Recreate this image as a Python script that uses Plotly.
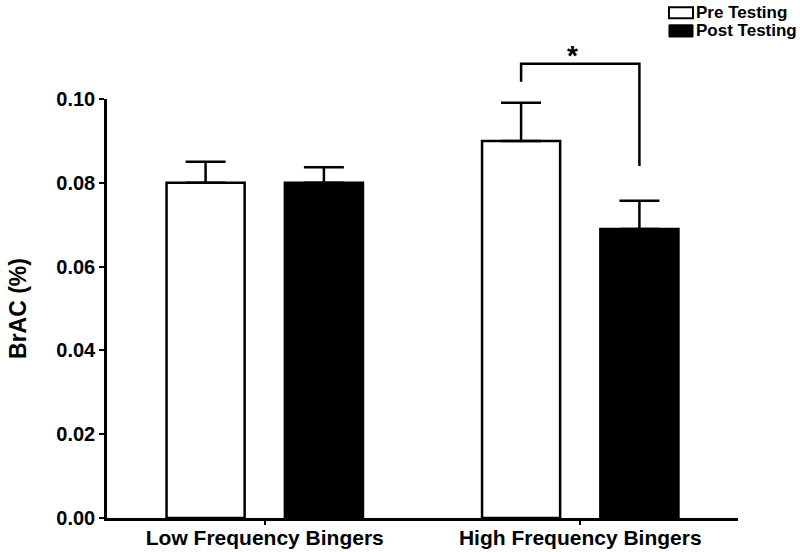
import plotly.graph_objects as go

categories = ["Low Frequency Bingers", "High Frequency Bingers"]
pre_mean = [0.080, 0.090]
pre_err = [0.0050, 0.0091]
post_mean = [0.080, 0.069]
post_err = [0.0037, 0.0067]
series_names = ["Pre Testing", "Post Testing"]
y_ticks = [0.00, 0.02, 0.04, 0.06, 0.08, 0.10]
y_tick_labels = ["0.00", "0.02", "0.04", "0.06", "0.08", "0.10"]

FONT = "Liberation Sans, Arial, sans-serif"
BARGAP = 0.25
BARGROUPGAP = 0.34

fig = go.Figure()
fig.add_trace(go.Bar(
    name=series_names[0], x=categories, y=pre_mean,
    marker=dict(color="white", line=dict(color="black", width=2.5)),
    error_y=dict(type="data", array=pre_err, symmetric=False, arrayminus=[0, 0],
                 color="black", thickness=2.5, width=20),
    showlegend=False,
))
fig.add_trace(go.Bar(
    name=series_names[1], x=categories, y=post_mean,
    marker=dict(color="black", line=dict(color="black", width=2.5)),
    error_y=dict(type="data", array=post_err, symmetric=False, arrayminus=[0, 0],
                 color="black", thickness=2.5, width=20),
    showlegend=False,
))

# significance bracket between High pre and High post (paper coords, y = value*10)
slot = (1 - BARGAP) / 2
hi_idx = 1
x_pre = hi_idx - slot / 2
x_post = hi_idx + slot / 2
def px(xd):
    return (xd + 0.5) / 2.0
line_style = dict(color="black", width=2.5)
y_top = 1.084
fig.add_shape(type="path", xref="paper", yref="paper",
              path=f"M {px(x_pre)},{1.041} L {px(x_pre)},{y_top} L {px(x_post)},{y_top} L {px(x_post)},{0.84}",
              line=line_style)
fig.add_annotation(x=px(hi_idx), y=1.103, xref="paper", yref="paper",
                   text="<b>*</b>", showarrow=False, yanchor="middle",
                   font=dict(family=FONT, size=28, color="black"))

# legend drawn manually
lx0, lx1 = 0.8906, 0.9287
fig.add_shape(type="rect", xref="paper", yref="paper", x0=lx0, x1=lx1, y0=1.193, y1=1.219,
              line=dict(color="black", width=2), fillcolor="white")
fig.add_shape(type="rect", xref="paper", yref="paper", x0=lx0, x1=lx1, y0=1.148, y1=1.177,
              line=dict(color="black", width=1), fillcolor="black")
fig.add_annotation(x=lx1 + 0.002, y=1.206, xref="paper", yref="paper", text="<b>" + series_names[0] + "</b>",
                   showarrow=False, xanchor="left", yanchor="middle",
                   font=dict(family=FONT, size=17, color="black"))
fig.add_annotation(x=lx1 + 0.002, y=1.163, xref="paper", yref="paper", text="<b>" + series_names[1] + "</b>",
                   showarrow=False, xanchor="left", yanchor="middle",
                   font=dict(family=FONT, size=17, color="black"))

fig.update_layout(
    width=800, height=552,
    margin=dict(l=107, r=62, t=99, b=34, autoexpand=False),
    paper_bgcolor="white", plot_bgcolor="white",
    barmode="group", bargap=BARGAP, bargroupgap=BARGROUPGAP,
    font=dict(family=FONT, color="black"),
)
fig.update_xaxes(
    range=[-0.5, 1.5], showline=True, linecolor="black", linewidth=2.5,
    ticks="outside", ticklen=4, tickwidth=1.5, tickcolor="black",
    tickfont=dict(family=FONT, size=21, color="black", weight="bold"),
    ticklabelstandoff=-5,
    showgrid=False, zeroline=False, automargin=False,
)
fig.update_yaxes(
    range=[0, 0.10], showline=True, linecolor="black", linewidth=2.5,
    ticks="outside", ticklen=5, tickwidth=2, tickcolor="black",
    tickvals=y_ticks, ticktext=y_tick_labels,
    tickfont=dict(family=FONT, size=20, color="black", weight="bold"),
    title=dict(text="<b>BrAC (%)</b>", font=dict(family=FONT, size=23, color="black"), standoff=24),
    showgrid=False, zeroline=False, automargin=False,
)

fig.write_html("out.html", config={"displayModeBar": False},
               post_script="document.body.style.margin='0';document.body.style.padding='0';")
